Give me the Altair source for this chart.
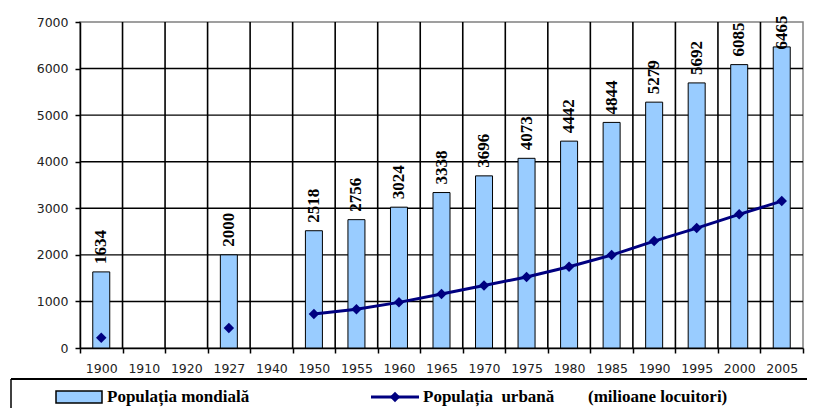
import altair as alt
import pandas as pd

years = ["1900", "1910", "1920", "1927", "1940", "1950", "1955", "1960", "1965",
         "1970", "1975", "1980", "1985", "1990", "1995", "2000", "2005"]
world_pop = [1634, None, None, 2000, None, 2518, 2756, 3024, 3338,
             3696, 4073, 4442, 4844, 5279, 5692, 6085, 6465]
urban_pop = [220, None, None, 430, None, 730, 830, 980, 1160,
             1340, 1525, 1745, 1995, 2295, 2575, 2870, 3155]
line_years = years[5:]
y_ticks = [0, 1000, 2000, 3000, 4000, 5000, 6000, 7000]

legend_bar = "Populația mondială"
legend_line = "Populația\u00a0\u00a0urbană"
legend_unit = "(milioane locuitori)"

df = pd.DataFrame({"year": years, "pop": world_pop, "urban": urban_pop})
df["inline"] = df["year"].isin(line_years)
grid_y = pd.DataFrame({"v": y_ticks[1:-1]})
grid_x = pd.DataFrame({"year": years[1:]})

W, H = 723, 326
NAVY = "#000080"
BAR = "#99CCFF"

xscale = alt.Scale(domain=years, paddingInner=0, paddingOuter=0)
yscale = alt.Scale(domain=[0, 7000], nice=False)

x_axis = alt.Axis(labelAngle=0, tickBand="extent", grid=False, title=None)
y_axis = alt.Axis(values=y_ticks, format="d", grid=False, title=None)

base = alt.Chart(df)
xs = alt.X("year:O", sort=years, scale=xscale, axis=x_axis, title=None)

vgrid = alt.Chart(grid_x).mark_rule(color="black", strokeWidth=1.6).encode(
    x=alt.X("year:O", sort=years, scale=xscale, axis=x_axis, title=None, bandPosition=0))
hgrid = alt.Chart(grid_y).transform_calculate(
    lo="datum.v - 15", hi="datum.v + 15"
).mark_rect(color="black", fill="black", opacity=1).encode(
    x=alt.value(0), x2=alt.value(W),
    y=alt.Y("lo:Q", scale=yscale, axis=y_axis, title=None),
    y2=alt.Y2("hi:Q"))

bars = base.transform_filter("datum.pop != null").mark_bar(
    size=17, fill=BAR, stroke="black", strokeWidth=1
).encode(x=xs, y=alt.Y("pop:Q", scale=yscale, axis=y_axis, title=None))

labels = base.transform_filter("datum.pop != null").transform_calculate(
    ly="min(datum.pop, 6240)"
).mark_text(
    angle=270, align="left", baseline="middle", dx=8,
    font="Liberation Serif", fontWeight="bold", fontSize=17, color="black"
).encode(x=xs, y=alt.Y("ly:Q", scale=yscale, axis=y_axis, title=None),
         text=alt.Text("pop:Q", format="d"))

line = base.transform_filter("datum.inline").mark_line(
    color=NAVY, strokeWidth=3
).encode(x=xs, y=alt.Y("urban:Q", scale=yscale, axis=y_axis, title=None))

points = base.transform_filter("datum.urban != null").mark_point(
    shape="diamond", filled=True, color=NAVY, size=110, opacity=1
).encode(x=xs, y=alt.Y("urban:Q", scale=yscale, axis=y_axis, title=None))

one = alt.Chart(pd.DataFrame({"a": [0]}))
box_top = one.mark_rule(color="black", strokeWidth=2).encode(
    x=alt.value(-69), x2=alt.value(740), y=alt.value(357))
box_left = one.mark_rule(color="black", strokeWidth=1.5).encode(
    x=alt.value(-69), y=alt.value(357), y2=alt.value(400))
sw_bar = one.mark_rect(fill=BAR, stroke="black", strokeWidth=1.5).encode(
    x=alt.value(-24), x2=alt.value(22), y=alt.value(369), y2=alt.value(381))
txt_style = dict(align="left", baseline="alphabetic", font="Liberation Serif",
                 fontWeight="bold", fontSize=17, color="black")
txt_bar = one.mark_text(**txt_style).encode(
    x=alt.value(27), y=alt.value(380), text=alt.value(legend_bar))
sw_line = one.mark_rule(color=NAVY, strokeWidth=3).encode(
    x=alt.value(291), x2=alt.value(339), y=alt.value(375))
sw_pt = one.mark_point(shape="diamond", filled=True, color=NAVY, size=110, opacity=1).encode(
    x=alt.value(315), y=alt.value(375))
txt_line = one.mark_text(**txt_style).encode(
    x=alt.value(343), y=alt.value(380), text=alt.value(legend_line))
txt_unit = one.mark_text(**txt_style).encode(
    x=alt.value(508), y=alt.value(380), text=alt.value(legend_unit))

chart = alt.layer(
    vgrid, hgrid, bars, labels, line, points,
    box_top, box_left, sw_bar, txt_bar, sw_line, sw_pt, txt_line, txt_unit
).properties(
    width=W, height=H,
    autosize=alt.AutoSizeParams(type="none"),
    padding={"left": 72, "top": 14, "right": 4, "bottom": 60},
    background="white",
).configure_view(
    stroke="#808080", strokeWidth=1.5
).configure_axis(
    domainColor="black", domainWidth=1.5,
    tickColor="black", tickSize=5, tickWidth=1.5,
    labelFont="DejaVu Sans", labelFontSize=12.5, labelColor="#222222",
).configure_axisX(labelPadding=9).configure_axisY(labelPadding=7)

chart.save("out.html", embed_options={"renderer": "svg", "actions": False})
